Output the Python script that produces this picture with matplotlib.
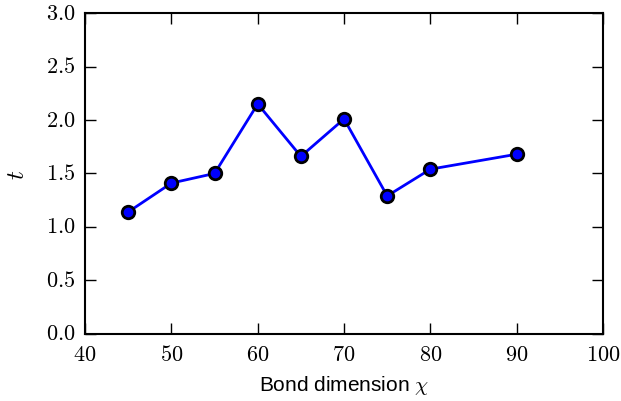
import matplotlib
matplotlib.use("Agg")
import matplotlib.pyplot as plt

# bond dimension vs time
chi = [45, 50, 55, 60, 65, 70, 75, 80, 90]
t_vals = [1.14, 1.41, 1.50, 2.15, 1.66, 2.01, 1.29, 1.54, 1.68]

plt.style.use("classic")
plt.rcParams["mathtext.fontset"] = "cm"
plt.rcParams["font.family"] = ["Liberation Sans", "DejaVu Sans"]

fig = plt.figure(figsize=(6.21, 4.02), dpi=100, facecolor="white")
ax = fig.add_axes([0.137, 0.167, 0.834, 0.798])

ax.plot(chi, t_vals, "o-", color="blue", lw=2, ms=9, mec="black", mew=2)

ax.set_xlim(40, 100)
ax.set_ylim(0, 3)
ax.set_xticks(range(40, 101, 10))
ax.set_yticks([0, 0.5, 1.0, 1.5, 2.0, 2.5, 3.0])
ax.set_xticklabels(["$%d$" % v for v in range(40, 101, 10)])
ax.set_yticklabels(["$%.1f$" % v for v in [0, 0.5, 1.0, 1.5, 2.0, 2.5, 3.0]])
ax.tick_params(labelsize=16, width=1, length=8, pad=7)
for s in ax.spines.values():
    s.set_linewidth(1.5)

ax.set_xlabel(r"Bond dimension $\chi$", fontsize=15, labelpad=6)
ax.set_ylabel("$t$", fontsize=18, labelpad=12)

fig.savefig("out.png", dpi=100, facecolor="white")
